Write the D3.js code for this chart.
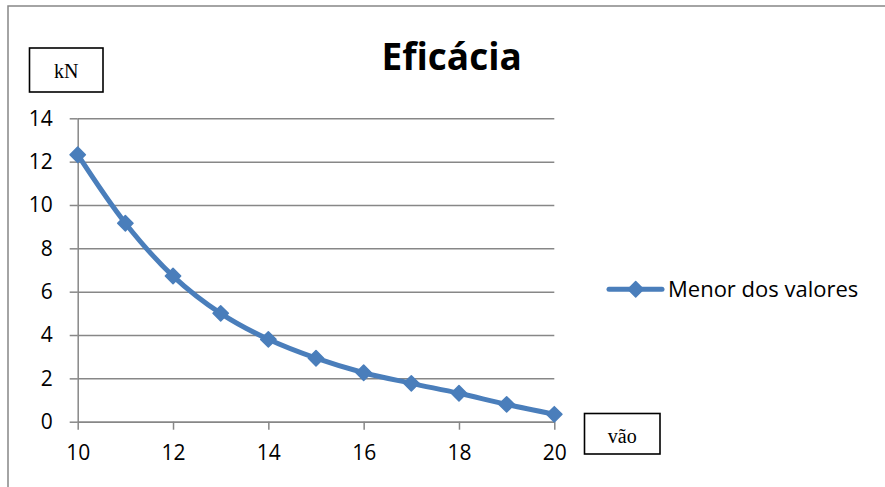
<!DOCTYPE html>
<html>
<head>
<meta charset="utf-8">
<script src="https://cdn.jsdelivr.net/npm/d3@7"></script>
<style>
  html, body { margin: 0; padding: 0; background: #fff; }
  svg { display: block; }
</style>
</head>
<body>
<svg id="chart" width="885" height="487"></svg>
<script>
// Span (vão) and the smallest of the values (kN)
const spans = [10, 11, 12, 13, 14, 15, 16, 17, 18, 19, 20];
const minValues = [12.32, 9.16, 6.72, 5.0, 3.8, 2.93, 2.26, 1.77, 1.31, 0.8, 0.34];
const xTicks = [10, 12, 14, 16, 18, 20];
const yTicks = [0, 2, 4, 6, 8, 10, 12, 14];
const seriesName = "Menor dos valores";
const title = "Eficácia";

const svg = d3.select("#chart");
const blue = "#4A7EBB";
const grid = "#878787";
const sans = "'Open Sans', 'Noto Sans', sans-serif";
const serif = "'Liberation Serif', 'DejaVu Serif', serif";

// outer chart frame
svg.append("rect")
  .attr("x", 8).attr("y", 6)
  .attr("width", 900).attr("height", 500)
  .attr("fill", "#fff").attr("stroke", grid).attr("stroke-width", 1.5);

const x = d3.scaleLinear().domain([10, 20]).range([77.7, 554.3]);
const y = d3.scaleLinear().domain([0, 14]).range([421.7, 118.3]);

// horizontal gridlines + y axis
const yAxis = svg.append("g")
  .attr("transform", `translate(${x(10)},0)`)
  .call(d3.axisLeft(y).tickValues(yTicks).tickSize(8).tickSizeOuter(0).tickPadding(17));
yAxis.select(".domain").attr("stroke", grid).attr("stroke-width", 1.5);
yAxis.selectAll(".tick line").attr("stroke", grid).attr("stroke-width", 1.5);
yAxis.selectAll(".tick").append("line")
  .attr("x1", 0).attr("x2", x(20) - x(10))
  .attr("stroke", grid).attr("stroke-width", 1.5);
yAxis.selectAll(".tick text")
  .attr("font-family", sans).attr("font-size", 21).attr("fill", "#000");

// x axis
const xAxis = svg.append("g")
  .attr("transform", `translate(0,${y(0)})`)
  .call(d3.axisBottom(x).tickValues(xTicks).tickSize(8).tickSizeOuter(0).tickPadding(15));
xAxis.select(".domain").attr("stroke", grid).attr("stroke-width", 1.5);
xAxis.selectAll(".tick line").attr("stroke", grid).attr("stroke-width", 1.5);
xAxis.selectAll(".tick text")
  .attr("font-family", sans).attr("font-size", 21).attr("fill", "#000");

// smoothed series line
const line = d3.line()
  .x((d, i) => x(spans[i]))
  .y(d => y(d))
  .curve(d3.curveCatmullRom.alpha(0.5));
svg.append("path")
  .datum(minValues)
  .attr("d", line)
  .attr("fill", "none")
  .attr("stroke", blue)
  .attr("stroke-width", 5)
  .attr("stroke-linejoin", "round");

// diamond markers
const diamond = d3.symbol().type(d3.symbolDiamond2).size(150);
svg.append("g").selectAll("path")
  .data(minValues)
  .join("path")
  .attr("transform", (d, i) => `translate(${x(spans[i])},${y(d)})`)
  .attr("d", diamond)
  .attr("fill", blue)
  .attr("stroke", blue)
  .attr("stroke-width", 1.5)
  .attr("stroke-linejoin", "round");

// title
svg.append("text")
  .attr("x", 451.7).attr("y", 69.5)
  .attr("text-anchor", "middle")
  .attr("font-family", sans).attr("font-weight", "bold").attr("font-size", 37)
  .attr("fill", "#000")
  .text(title);

// axis unit boxes
function unitBox(x0, y0, w, h, label, baseline) {
  svg.append("rect")
    .attr("x", x0).attr("y", y0).attr("width", w).attr("height", h)
    .attr("fill", "#fff").attr("stroke", "#000").attr("stroke-width", 1.6);
  svg.append("text")
    .attr("x", x0 + w / 2).attr("y", baseline)
    .attr("text-anchor", "middle")
    .attr("font-family", serif).attr("font-size", 20).attr("fill", "#000")
    .text(label);
}
unitBox(29.5, 48, 73.5, 44, "kN", 78);
unitBox(584.5, 413.5, 75.5, 40.5, "vão", 443);

// legend
const lg = svg.append("g");
lg.append("line")
  .attr("x1", 609).attr("x2", 662).attr("y1", 289.3).attr("y2", 289.3)
  .attr("stroke", blue).attr("stroke-width", 5).attr("stroke-linecap", "round");
lg.append("path")
  .attr("transform", "translate(635.7,289.3)")
  .attr("d", diamond).attr("fill", blue).attr("stroke", blue).attr("stroke-width", 1.5)
  .attr("stroke-linejoin", "round");
lg.append("text")
  .attr("x", 668).attr("y", 297)
  .attr("font-family", sans).attr("font-size", 22).attr("fill", "#000")
  .text(seriesName);
</script>
</body>
</html>
